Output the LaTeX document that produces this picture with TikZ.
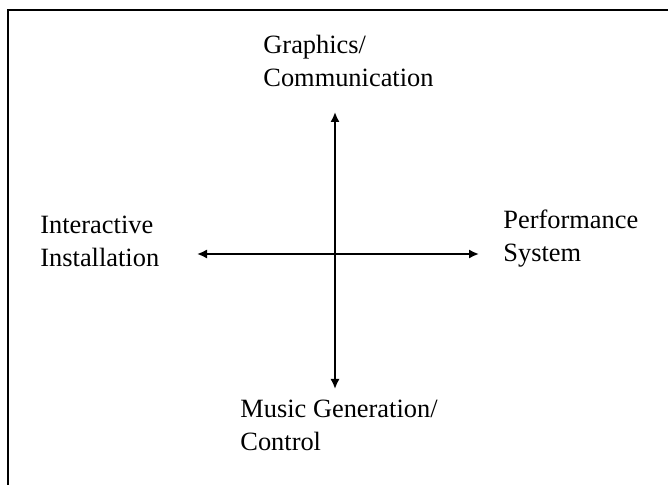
\documentclass[tikz,border=0pt]{standalone}
\usepackage{fontspec}
\setmainfont{Liberation Serif}
\usetikzlibrary{positioning,arrows.meta}

\begin{document}
\begin{tikzpicture}[x=0.5pt,y=-0.5pt,
    label/.style={anchor=north west,inner sep=0pt,align=left,
        font=\fontsize{13.2}{16.3}\selectfont},
    axis/.style={line width=1pt,{Latex[length=5pt,width=4.6pt]}-{Latex[length=5pt,width=4.6pt]}}]
\useasboundingbox (0,0) rectangle (668,485);

% frame, only top and left edges
\draw[line width=1.1pt] (8,485) -- (8,10) -- (668,10);

% axis ends
\coordinate (top) at (335,112);
\coordinate (bottom) at (335,389);
\coordinate (left) at (197,254);
\coordinate (right) at (479,254);

\draw[axis] (top) -- (bottom);
\draw[axis] (left) -- (right);

\node[label] (graphics) at (263,35) {Graphics/\\Communication};
\node[label] (installation) at (40,216) {Interactive\\Installation};
\node[label] (performance) at (503,210) {Performance\\System};
\node[label] (music) at (240,400) {Music Generation/\\Control};
\end{tikzpicture}
\end{document}
